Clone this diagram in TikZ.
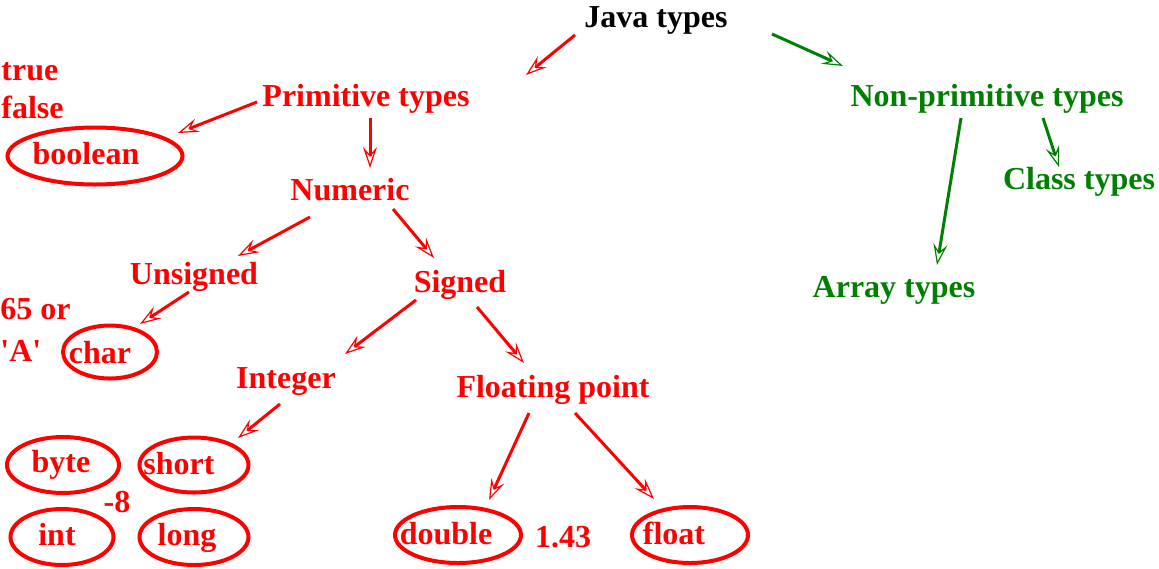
\documentclass[tikz,border=0pt]{standalone}
\usepackage{fontspec}
\setmainfont{Liberation Serif}
\usetikzlibrary{arrows.meta,shapes.geometric}
\definecolor{javagreen}{RGB}{0,128,0}

\begin{document}
\begin{tikzpicture}[x=0.5pt, y=-0.5pt]
\tikzset{
    mytype/.style={inner sep=0pt, text height=0.8em, text depth=0.1em, font=\fontsize{16}{19}\selectfont\bfseries, text=red},
    myvalue/.style={mytype, anchor=west},
    myoval/.style={ellipse, draw=red, line width=2pt, inner sep=0pt},
    myarrow/.style={-{Stealth[open, length=10.5pt, width=7pt, inset=4pt, line width=0.6pt]}, line width=1.5pt, draw=red},
    greenarrow/.style={myarrow, draw=javagreen}
}
\useasboundingbox (0,0) rectangle (1159,568);

\node[mytype, text=black] (java) at (656,20) {Java types};
\node[mytype] (prim) at (366,99) {Primitive types};
\node[mytype, text=javagreen] (nonprim) at (987,99) {Non-primitive types};
\node[mytype, text=javagreen] (class) at (1079,182) {Class types};
\node[mytype, text=javagreen] (array) at (894,290) {Array types};
\node[mytype] (numeric) at (350,193) {Numeric};
\node[mytype] (unsigned) at (194,277) {Unsigned};
\node[mytype] (signed) at (460,285) {Signed};
\node[mytype] (integer) at (286,381) {Integer};
\node[mytype] (floating) at (553,390) {Floating point};

% the primitive types, each one in a red oval
\node[myoval, minimum width=87.5pt, minimum height=28.5pt] (booleanoval) at (95,156) {};
\node[myoval, minimum width=47pt, minimum height=26.5pt] (charoval) at (110,352) {};
\node[myoval, minimum width=56pt, minimum height=28pt] (byteoval) at (63,465) {};
\node[myoval, minimum width=54.5pt, minimum height=27.5pt] (shortoval) at (194,465) {};
\node[myoval, minimum width=51.5pt, minimum height=28pt] (intoval) at (62,537) {};
\node[myoval, minimum width=54.5pt, minimum height=28pt] (longoval) at (194,537) {};
\node[myoval, minimum width=63pt, minimum height=28pt] (doubleoval) at (458,535) {};
\node[myoval, minimum width=58pt, minimum height=28pt] (floatoval) at (690,535) {};
\node[mytype] (boolean) at (86,157) {boolean};
\node[mytype] (char) at (100,356) {char};
\node[mytype] (byte) at (61,465) {byte};
\node[mytype] (short) at (179,467) {short};
\node[mytype] (int) at (57,538) {int};
\node[mytype] (long) at (187,538) {long};
\node[mytype] (double) at (446,537) {double};
\node[mytype] (float) at (674,537) {float};

% sample values
\node[myvalue] (true) at (1,73) {true};
\node[myvalue] (false) at (1,111) {false};
\node[myvalue] (sixtyfive) at (0,312) {65 or};
\node[myvalue] (letter) at (0,354) {\textquotesingle A\textquotesingle};
\node[mytype] (minuseight) at (117,505) {-8};
\node[mytype] (onefortythree) at (563,540) {1.43};

\draw[myarrow] ([shift={(-81,15)}]java.center) -- ([shift={(160,-24)}]prim.center);
\draw[greenarrow] ([shift={(116,14)}]java.center) -- ([shift={(-144,-33)}]nonprim.center);
\draw[myarrow] ([shift={(-109,3)}]prim.center) -- ([shift={(83,-23)}]booleanoval.center);
\draw[myarrow] ([shift={(4,19)}]prim.center) -- ([shift={(20,-25)}]numeric.center);
\draw[myarrow] ([shift={(-40,24)}]numeric.center) -- ([shift={(44,-21)}]unsigned.center);
\draw[myarrow] ([shift={(43,16)}]numeric.center) -- ([shift={(-26,-27)}]signed.center);
\draw[myarrow] ([shift={(-5,15)}]unsigned.center) -- ([shift={(30,-28)}]charoval.center);
\draw[myarrow] ([shift={(-44,15)}]signed.center) -- ([shift={(59,-27)}]integer.center);
\draw[myarrow] ([shift={(17,22)}]signed.center) -- ([shift={(-29,-27)}]floating.center);
\draw[myarrow] ([shift={(-6,23)}]integer.center) -- ([shift={(44,-27)}]shortoval.center);
\draw[myarrow] ([shift={(-24,23)}]floating.center) -- ([shift={(31,-35)}]doubleoval.center);
\draw[myarrow] ([shift={(22,23)}]floating.center) -- ([shift={(-36,-36)}]floatoval.center);
\draw[greenarrow] ([shift={(-26,19)}]nonprim.center) -- ([shift={(43,-25)}]array.center);
\draw[greenarrow] ([shift={(56,19)}]nonprim.center) -- ([shift={(-20,-15)}]class.center);
% arrow ends are offsets from the node centres, the arrows do not touch the texts

\end{tikzpicture}
\end{document}
